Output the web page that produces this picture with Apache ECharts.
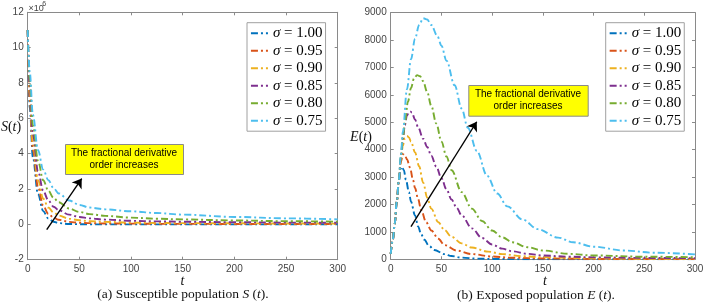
<!DOCTYPE html>
<html><head><meta charset="utf-8">
<script src="https://cdn.jsdelivr.net/npm/echarts@6/dist/echarts.min.js"></script>
<style>html,body{margin:0;padding:0;background:#fff}#c{width:709px;height:306px}</style>
</head><body><div id="c"></div>
<script>
// ---- data ----
const sigmaNames = ['σ = 1.00','σ = 0.95','σ = 0.90','σ = 0.85','σ = 0.80','σ = 0.75'];
const colors = ['#0072BD','#D95319','#EDB120','#7E2F8E','#77AC30','#4DBEEE'];

// Susceptible population S(t), in units of 10^6
const S_t = [0,2,5,10,15,20,25,30,40,50,60,75,100,125,150,200,250,300];
const S_100 = [11,6.6,3.8,1.7,0.75,0.33,0.15,0.07,0.02,0.01,0,0,0,0,0,0,0,0];
const S_095 = [11,7.0,4.2,2.1,1.05,0.6,0.38,0.26,0.14,0.09,0.07,0.05,0.04,0.03,0.03,0.02,0.02,0.02];
const S_090 = [11,7.4,4.6,2.5,1.45,0.95,0.68,0.5,0.32,0.23,0.18,0.14,0.1,0.08,0.07,0.06,0.05,0.04];
const S_085 = [11,7.8,5.1,3.0,1.9,1.35,1.0,0.8,0.55,0.42,0.34,0.27,0.2,0.17,0.15,0.12,0.1,0.09];
const S_080 = [11,8.2,5.6,3.6,2.5,1.9,1.5,1.25,0.9,0.7,0.58,0.48,0.38,0.32,0.28,0.22,0.18,0.15];
const S_075 = [11,8.6,6.2,4.2,3.1,2.5,2.05,1.75,1.35,1.1,0.95,0.85,0.74,0.64,0.55,0.42,0.34,0.28];

// Exposed population E(t)
const E100_t = [0,2,4,6,8,10,11,13,15,18,20,24,27,30,33,38,43,53,60,70,85,100,130,160,200,300];
const E100_v = [200,700,1300,2100,2800,3320,3380,3250,2900,2450,2100,1600,1200,920,720,480,340,190,120,60,25,12,3,0,0,0];
const E095_t = [0,2,4,6,8,10,12,14,16,19,22,24,27,30,35,40,47,53,65,80,100,120,150,200,300];
const E095_v = [200,700,1300,2100,2900,3550,3840,3800,3650,3350,2900,2600,2200,1800,1350,1050,750,520,320,190,100,55,30,12,5];
const E090_t = [0,2,4,6,8,10,12,14,16,18,20,24,28,32,36,40,47,53,60,70,80,96,110,130,150,200,250,300];
const E090_v = [200,700,1300,2100,2900,3600,4150,4420,4500,4450,4300,3900,3400,2800,2250,1850,1350,1070,820,580,430,280,190,110,75,35,20,12];
const E085_t = [0,2,4,6,8,10,12,14,16,18,19.5,21,24,27,32,36,40,45,50,55,60,65,70,80,90,100,110,120,135,150,175,200,250,300];
const E085_v = [200,700,1300,2100,2900,3700,4400,4900,5250,5370,5390,5350,5100,4820,4400,4100,3780,3380,2960,2550,2180,1880,1600,1130,780,540,390,290,200,140,95,70,50,40];
const E080_t = [0,2,4,6,8,10,12,14,17,20,23,26,29,32,36,40,45,50,55,60,70,80,90,100,110,120,135,150,175,200,250,300];
const E080_v = [200,700,1300,2100,2900,3750,4450,5000,5750,6250,6600,6720,6680,6500,6100,5600,4950,4300,3750,3250,2450,1850,1400,1050,800,620,440,320,200,140,95,75];
const E075_t = [0,2,4,6,8,10,12,16,20,24,28,32,36,40,46,50,55,63,70,76,85,95,105,115,130,145,165,180,200,230,260,300];
const E075_v = [200,700,1300,2100,2900,3800,4650,6200,7300,8050,8550,8800,8750,8550,8150,7800,7250,6350,5500,4800,3950,3050,2400,1930,1450,1100,790,620,460,320,240,180];

const xTicks = [0,50,100,150,200,250,300];
const S_yTicks = [-2,0,2,4,6,8,10,12];
const E_yTicks = [0,1000,2000,3000,4000,5000,6000,7000,8000,9000];

// annotation arrows in data coordinates
const arrowS = [[18.4,-0.3],[52.3,2.59]];
const arrowE = [[20,1190],[84.8,5020]];

// ---- chart ----
const S_sets = [S_100,S_095,S_090,S_085,S_080,S_075];
const E_sets = [[E100_t,E100_v],[E095_t,E095_v],[E090_t,E090_v],[E085_t,E085_v],[E080_t,E080_v],[E075_t,E075_v]];
const zip = (a,b)=>a.map((x,i)=>[x,b[i]]);

const axisColor = '#8a8a8a';
const labelColor = '#444';
const sans = 'Liberation Sans, Arial, sans-serif';
const serif = 'Liberation Serif, Times New Roman, serif';

function xAx(g, pos, show){
  return {gridIndex:g, type:'value', min:xTicks[0], max:xTicks[xTicks.length-1], interval:50, position:pos,
    axisLine:{show:true,onZero:false,lineStyle:{color:axisColor,width:1}},
    axisTick:{show:true,inside:true,length:3,lineStyle:{color:axisColor}},
    axisLabel:{show:show,color:labelColor,fontSize:10,fontFamily:sans,margin:5},
    splitLine:{show:false}};
}
function yAx(g, pos, show, ticks){
  return {gridIndex:g, type:'value', min:ticks[0], max:ticks[ticks.length-1], interval:ticks[1]-ticks[0], position:pos,
    axisLine:{show:true,onZero:false,lineStyle:{color:axisColor,width:1}},
    axisTick:{show:true,inside:true,length:3,lineStyle:{color:axisColor}},
    axisLabel:{show:show,color:labelColor,fontSize:10,fontFamily:sans,margin:4,formatter:v=>String(v)},
    splitLine:{show:false}};
}

const lineType = [7,3,2,3];
const LW = 1.9;
const series = [];
S_sets.forEach((vals,i)=>{
  series.push({type:'line', name:sigmaNames[i], xAxisIndex:0, yAxisIndex:0, data:zip(S_t,vals),
    smooth:0.35, smoothMonotone:'x', symbol:'none', showSymbol:false, color:colors[i],
    lineStyle:{color:colors[i],width:LW,type:lineType}});
});
E_sets.forEach((d,i)=>{
  series.push({type:'line', name:sigmaNames[i], xAxisIndex:2, yAxisIndex:2, data:zip(d[0],d[1]),
    smooth:0.35, smoothMonotone:'x', symbol:'none', showSymbol:false, color:colors[i],
    lineStyle:{color:colors[i],width:LW,type:lineType}});
});
function arrowSeries(xi, yi, pts){
  return {type:'line', xAxisIndex:xi, yAxisIndex:yi, data:[], silent:true,
    markLine:{silent:true, symbol:['none','arrow'], symbolSize:9, animation:false,
      label:{show:false}, lineStyle:{color:'#000',width:1.4,type:'solid'},
      emphasis:{disabled:true},
      data:[[{coord:pts[0]},{coord:pts[1]}]]}};
}
series.push(arrowSeries(0,0,arrowS));
series.push(arrowSeries(2,2,arrowE));

function legend(left){
  return {left:left, top:22.7, orient:'vertical', data:sigmaNames,
    backgroundColor:'#fff', borderColor:'#a0a0a0', borderWidth:1, padding:[3,3,3,3],
    itemWidth:17, itemHeight:14, itemGap:2.5, selectedMode:false,
    itemStyle:{opacity:0}, lineStyle:{width:LW},
    formatter:n=>'{s|σ} = '+n.split('= ')[1],
    textStyle:{fontFamily:serif,fontSize:15,color:'#000',lineHeight:14,
      rich:{s:{fontFamily:serif,fontSize:15,fontStyle:'italic',color:'#000'}}}};
}

function box(x,y,w,h){
  return [
    {type:'rect', left:x, top:y, shape:{width:w,height:h}, style:{fill:'#ffff00',stroke:'#8a8a8a',lineWidth:1}, z:50},
    {type:'text', x:x+w/2, y:y+h/2, z:51, style:{text:'The fractional derivative\norder increases', fill:'#000', font:'10px '+sans, align:'center', verticalAlign:'middle', lineHeight:12.5}}
  ];
}
function t(x,y,text,font,rich,align){
  return {type:'text', x:x, y:y, z:60, style:{text:text, font:font, fill:'#111', align:align||'center', verticalAlign:'middle', rich:rich}};
}
const ital = {i:{fontStyle:'italic',fontFamily:serif,fontSize:14,fill:'#111'}, n:{fontFamily:serif,fontSize:14,fill:'#111'}};
const capR = {i:{fontStyle:'italic',fontFamily:serif,fontSize:13.5,fill:'#111'}, n:{fontFamily:serif,fontSize:13.5,fill:'#111'}};

const chart = echarts.init(document.getElementById('c'), null, {renderer:'canvas'});
chart.setOption({
  animation:false,
  backgroundColor:'#fff',
  grid:[{left:27.7, top:12.3, width:310, height:247.4},
        {left:390.7, top:12.7, width:304.3, height:246.6}],
  xAxis:[xAx(0,'bottom',true), xAx(0,'top',false), xAx(1,'bottom',true), xAx(1,'top',false)],
  yAxis:[yAx(0,'left',true,S_yTicks), yAx(0,'right',false,S_yTicks), yAx(1,'left',true,E_yTicks), yAx(1,'right',false,E_yTicks)],
  legend:[legend(247), legend(605.7)],
  series:series,
  graphic:[
    ...box(65,144,118,30),
    ...box(468.3,85,119.4,30.7),
    {type:'text', x:28.5, y:8.5, z:60, style:{text:'×10', font:'9px '+sans, fill:'#444', align:'left', verticalAlign:'middle'}},
    {type:'text', x:42.3, y:4, z:60, style:{text:'6', font:'7px '+sans, fill:'#444', align:'left', verticalAlign:'middle'}},
    t(11,127.7,'{i|S}{n|(}{i|t}{n|)}','14px '+serif,ital),
    t(361,137,'{i|E}{n|(}{i|t}{n|)}','14px '+serif,ital),
    t(182.5,281.7,'{i|t}','14px '+serif,ital),
    t(545,281.7,'{i|t}','14px '+serif,ital),
    t(183,294,'{n|(a) Susceptible population }{i|S}{n| (}{i|t}{n|).}','13.5px '+serif,capR),
    t(536,295,'{n|(b) Exposed population }{i|E}{n| (}{i|t}{n|).}','13.5px '+serif,capR)
  ]
});
</script>
</body></html>
